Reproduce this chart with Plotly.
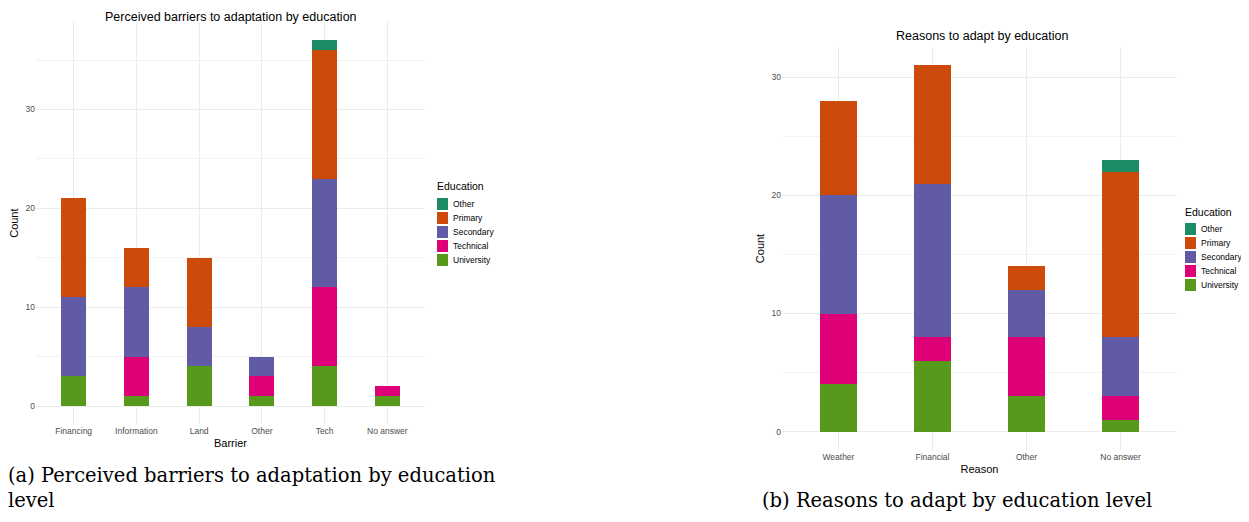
import plotly.graph_objects as go

# ---- data ----
barriers = ["Financing", "Information", "Land", "Other", "Tech", "No answer"]
bar_university = [3, 1, 4, 1, 4, 1]
bar_technical = [0, 4, 0, 2, 8, 1]
bar_secondary = [8, 7, 4, 2, 11, 0]
bar_primary = [10, 4, 7, 0, 13, 0]
bar_other = [0, 0, 0, 0, 1, 0]

reasons = ["Weather", "Financial", "Other", "No answer"]
rea_university = [4, 6, 3, 1]
rea_technical = [6, 2, 5, 2]
rea_secondary = [10, 13, 4, 5]
rea_primary = [8, 10, 2, 14]
rea_other = [0, 0, 0, 1]

levels = ["University", "Technical", "Secondary", "Primary", "Other"]   # stacking order
legend_order = ["Other", "Primary", "Secondary", "Technical", "University"]
colors = {"Other": "#1B8C66", "Primary": "#CC4A0A", "Secondary": "#615BA5",
          "Technical": "#DD0077", "University": "#56991B"}
y_ticks = [0, 10, 20, 30]
y_minor = [5, 15, 25, 35]

# page body has an 8px margin: figure is placed at (8, 8)
OFF = 8
W, H = 1249 - 2 * OFF, 522 - 2 * OFF
def px_x(p): return (p - OFF) / W
def px_y(p): return 1 - (p - OFF) / H

fig = go.Figure()
left = dict(zip(levels, [bar_university, bar_technical, bar_secondary, bar_primary, bar_other]))
right = dict(zip(levels, [rea_university, rea_technical, rea_secondary, rea_primary, rea_other]))

for lv in levels:
    fig.add_trace(go.Bar(x=barriers, y=left[lv], name=lv, marker_color=colors[lv],
                         marker_line_width=0, width=0.4, xaxis="x", yaxis="y",
                         showlegend=False))
for lv in levels:
    fig.add_trace(go.Bar(x=reasons, y=right[lv], name=lv, marker_color=colors[lv],
                         marker_line_width=0, width=0.4, xaxis="x2", yaxis="y2",
                         showlegend=False))

sans = "Liberation Sans, Arial, sans-serif"
serif = "DejaVu Serif, serif"
grid = "#EBEBEB"
tickfont = dict(family=sans, size=8.5, color="#4D4D4D")
titlefont = dict(family=sans, size=11, color="#000000")

def xax(domain, cats, anchor, title):
    return dict(domain=domain, anchor=anchor, type="category", categoryorder="array",
                categoryarray=cats, range=[-0.6, len(cats) - 0.4], showgrid=True,
                gridcolor=grid, gridwidth=1, zeroline=False, showline=False, ticks="",
                tickfont=tickfont, title=dict(text=title, font=titlefont, standoff=4),
                fixedrange=True)

def yax(domain, rng, anchor):
    return dict(domain=domain, anchor=anchor, range=rng, tickmode="array", tickvals=y_ticks,
                showgrid=True, gridcolor=grid, gridwidth=1, zeroline=False, showline=False,
                ticks="", tickfont=tickfont,
                minor=dict(tickvals=y_minor, showgrid=True, gridcolor="#F3F3F3", gridwidth=0.8),
                title=dict(text="Count", font=titlefont, standoff=4), fixedrange=True)

fig.update_layout(
    width=W, height=H, margin=dict(l=0, r=0, t=0, b=0),
    paper_bgcolor="white", plot_bgcolor="white", barmode="stack", bargap=0,
    xaxis=xax([px_x(36), px_x(425)], barriers, "y", "Barrier"),
    yaxis=yax([px_y(424.3), px_y(22)], [-1.85, 38.85], "x"),
    xaxis2=xax([px_x(782), px_x(1177)], reasons, "y2", "Reason"),
    yaxis2=yax([px_y(450), px_y(47)], [-1.55, 32.55], "x2"),
    showlegend=False,
)

annots = [
    dict(text="Perceived barriers to adaptation by education", x=px_x(230.5), y=px_y(8),
         font=dict(family=sans, size=12.5, color="#000"), xanchor="center", yanchor="top"),
    dict(text="Reasons to adapt by education", x=px_x(982), y=px_y(36),
         font=dict(family=sans, size=12.5, color="#000"), xanchor="center", yanchor="middle"),
    dict(text="(a) Perceived barriers to adaptation by education<br>level", x=px_x(6),
         y=px_y(514), align="left",
         font=dict(family=serif, size=19.5, color="#000"), xanchor="left", yanchor="bottom"),
    dict(text="(b) Reasons to adapt by education level", x=px_x(760), y=px_y(514),
         font=dict(family=serif, size=19.5, color="#000"), xanchor="left", yanchor="bottom"),
]
shapes = []

# legends (one per panel), keys and labels built from the level list
def add_legend(key_left, title_y, first_y, step=14):
    annots.append(dict(text="Education", x=px_x(key_left - 2), y=px_y(title_y),
                       font=dict(family=sans, size=10.5, color="#000"),
                       xanchor="left", yanchor="middle"))
    for i, lv in enumerate(legend_order):
        cy = first_y + i * step
        shapes.append(dict(type="rect", xref="paper", yref="paper",
                           x0=px_x(key_left), x1=px_x(key_left + 11),
                           y0=px_y(cy - 6), y1=px_y(cy + 6),
                           fillcolor=colors[lv], line=dict(width=0)))
        annots.append(dict(text=lv, x=px_x(key_left + 14), y=px_y(cy),
                           font=dict(family=sans, size=8.5, color="#000"),
                           xanchor="left", yanchor="middle"))

add_legend(437, 186, 204)
add_legend(1185, 212, 229)

for a in annots:
    a.update(xref="paper", yref="paper", showarrow=False)
fig.update_layout(annotations=annots, shapes=shapes)

fig.write_html("out.html")
